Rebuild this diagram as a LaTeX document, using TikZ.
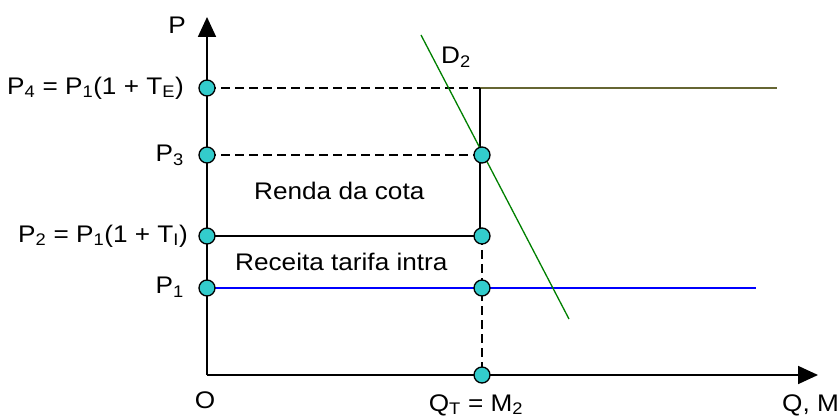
\documentclass[tikz,border=0pt]{standalone}
\usepackage{fontspec}
\setmainfont{Liberation Sans}
\usetikzlibrary{arrows.meta}
\definecolor{dotcyan}{RGB}{51,204,204}
\definecolor{olivel}{RGB}{102,102,51}
\definecolor{dgreen}{RGB}{0,128,0}
\begin{document}
\begin{tikzpicture}[x=1pt,y=-1pt,
 dot/.style={circle,draw=black,fill=dotcyan,line width=1.3pt,minimum size=16pt,inner sep=0pt},
 lbl/.style={font=\fontsize{24}{28}\selectfont,inner sep=0pt,xscale=1.09},
 dsh/.style={line width=1.3pt,dash pattern=on 9pt off 5pt},
 sol/.style={line width=1.3pt},
 ax/.style={line width=1.8pt,-{Triangle[length=20pt,width=18pt]}}]
\useasboundingbox (0,0) rectangle (839,417);
\coordinate (O) at (207,375);
\coordinate (ytop) at (207,17);
\coordinate (xend) at (818,375);
\coordinate (p4) at (207,88);
\coordinate (p3) at (207,155);
\coordinate (p2) at (207,236);
\coordinate (p1) at (207,288);
\coordinate (c4) at (480,88);
\coordinate (c3) at (482,155);
\coordinate (c2) at (482,236);
\coordinate (c2l) at (480,236);
\coordinate (c1) at (482,288);
\coordinate (q) at (482,375);
\coordinate (e4) at (777,88);
\coordinate (e1) at (756,288);
\coordinate (d2a) at (421,35);
\coordinate (d2b) at (569,319);
% axes
\draw[ax] (O) -- (ytop);
\draw[ax] (O) -- (xend);
% lines
\draw[dsh] (p4) -- (c4);
\draw[sol,olivel] (c4) -- (e4);
\draw[dsh] (p3) -- (c3);
\draw[sol] (c4) -- (c2l);
\draw[sol] (p2) -- (c2);
\draw[dsh] (c2) -- (q);
\draw[sol,blue] (p1) -- (e1);
\draw[sol,dgreen] (d2a) -- (d2b);
% dots
\foreach \n in {p4,p3,p2,p1,c3,c2,c1,q} \node[dot] (d\n) at (\n) {};
% labels
\node[lbl] (lP) at (177,25) {P};
\node[lbl,anchor=east] (l4) at (184,88) {P\textsubscript{4} = P\textsubscript{1}(1 + T\textsubscript{E})};
\node[lbl,anchor=east] (l3) at (184,155) {P\textsubscript{3}};
\node[lbl,anchor=west] (lr) at (254,191) {Renda da cota};
\node[lbl,anchor=east] (l2) at (188,236) {P\textsubscript{2} = P\textsubscript{1}(1 + T\textsubscript{I})};
\node[lbl,anchor=west] (lt) at (235,262) {Receita tarifa intra};
\node[lbl,anchor=east] (l1) at (184,287) {P\textsubscript{1}};
\node[lbl] (lO) at (205,400) {O};
\node[lbl] (lq) at (476,405) {Q\textsubscript{T} = M\textsubscript{2}};
\node[lbl,anchor=west] (lqm) at (782,405) {Q, M};
\node[lbl] (ld) at (456,57) {D\textsubscript{2}};
\end{tikzpicture}
\end{document}
